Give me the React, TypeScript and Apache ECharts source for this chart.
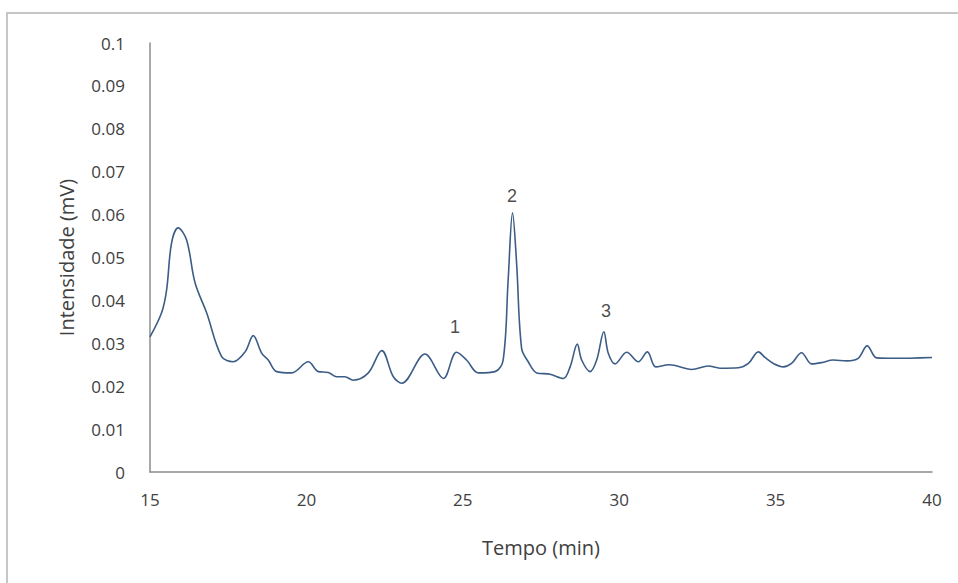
import React, { useEffect, useRef } from "react";
import * as echarts from "echarts";

const timeMin: number[] = [
  15.0, 15.37, 15.53, 15.69, 15.9, 16.17, 16.44, 16.81, 17.29, 17.66, 18.04, 18.3, 18.57, 18.78, 19.05, 19.53,
  20.06, 20.38, 20.7, 20.97, 21.23, 21.5, 21.98, 22.41, 22.78, 23.05, 23.79, 24.38, 24.8, 25.12, 25.5, 26.03,
  26.29, 26.45, 26.59, 26.72, 26.88, 27.09, 27.36, 27.79, 28.21, 28.43, 28.66, 28.8, 29.07, 29.28, 29.51, 29.65,
  29.87, 30.24, 30.61, 30.9, 31.17, 31.6, 32.32, 32.85, 33.22, 33.81, 34.13, 34.45, 34.66, 34.93, 35.25, 35.51,
  35.83, 36.15, 36.47, 36.84, 37.27, 37.64, 37.93, 38.23, 38.76, 40.0,
];
const intensity: number[] = [
  0.0315, 0.0371, 0.0424, 0.0534, 0.0569, 0.0541, 0.0441, 0.0371, 0.0269, 0.0257, 0.028, 0.0318, 0.0277, 0.0261, 0.0234, 0.0231,
  0.0257, 0.0234, 0.0232, 0.0222, 0.0222, 0.0214, 0.0231, 0.0283, 0.0222, 0.0207, 0.0275, 0.0218, 0.0279, 0.0261, 0.0231, 0.0234,
  0.0261, 0.0448, 0.0604, 0.0487, 0.0288, 0.0257, 0.0231, 0.0228, 0.0218, 0.0245, 0.0298, 0.0261, 0.0234, 0.0261, 0.0327, 0.0277,
  0.0252, 0.0279, 0.0257, 0.028, 0.0245, 0.025, 0.0239, 0.0247, 0.0242, 0.0243, 0.0253, 0.028, 0.0267, 0.0253, 0.0245, 0.0253,
  0.0278, 0.0252, 0.0255, 0.0261, 0.0259, 0.0265, 0.0294, 0.0266, 0.0265, 0.0267,
];
const peakLabels: string[] = ["1", "2", "3"];
const peakLabelTimes: number[] = [24.75, 26.57, 29.58];
const peakLabelValues: number[] = [0.0338, 0.0643, 0.0375];

export default function App() {
  const ref = useRef<HTMLDivElement>(null);
  useEffect(() => {
    document.body.style.margin = "0";
    if (!ref.current) return;
    const chart = echarts.init(ref.current, null, { renderer: "svg" });
    const labelFont = "'Open Sans', 'Noto Sans', sans-serif";
    chart.setOption({
      animation: false,
      backgroundColor: "#ffffff",
      grid: { left: 150, right: 26, top: 43, bottom: 111 },
      graphic: [
        {
          type: "rect",
          shape: { x: 7, y: 13, width: 970, height: 600 },
          style: { fill: "none", stroke: "#c6c6c6", lineWidth: 2 },
          silent: true,
        },
      ],
      xAxis: {
        type: "value",
        min: 15,
        max: 40,
        interval: 5,
        name: "Tempo (min)",
        nameLocation: "middle",
        nameGap: 65,
        nameTextStyle: { fontFamily: labelFont, fontSize: 20, color: "#404040" },
        axisLine: { lineStyle: { color: "#8c8c8c", width: 1.5 } },
        axisTick: { show: false },
        splitLine: { show: false },
        axisLabel: { fontFamily: labelFont, fontSize: 17, color: "#404040", margin: 19 },
      },
      yAxis: {
        type: "value",
        min: 0,
        max: 0.1,
        interval: 0.01,
        name: "Intensidade (mV)",
        nameLocation: "middle",
        nameGap: 74,
        nameRotate: 90,
        nameTextStyle: { fontFamily: labelFont, fontSize: 20, color: "#404040" },
        axisLine: { show: true, lineStyle: { color: "#8c8c8c", width: 1.5 } },
        axisTick: { show: false },
        splitLine: { show: false },
        axisLabel: {
          fontFamily: labelFont,
          fontSize: 17,
          color: "#404040",
          margin: 25,
          formatter: (v: number) => String(+v.toFixed(2)),
        },
      },
      series: [
        {
          type: "line",
          data: timeMin.map((t, i) => [t, intensity[i]]),
          smooth: 0.35,
          showSymbol: false,
          lineStyle: { color: "#3b5d86", width: 1.6 },
          z: 3,
        },
        {
          type: "scatter",
          data: peakLabelTimes.map((t, i) => ({ value: [t, peakLabelValues[i]], name: peakLabels[i] })),
          symbolSize: 0,
          label: {
            show: true,
            position: "inside",
            formatter: (p: any) => p.name,
            fontFamily: "'Liberation Sans', Arial, sans-serif",
            fontSize: 18,
            color: "#1a1a1a",
          },
          z: 4,
        },
      ],
    });
    return () => chart.dispose();
  }, []);
  return <div ref={ref} style={{ width: 958, height: 583 }} />;
}
